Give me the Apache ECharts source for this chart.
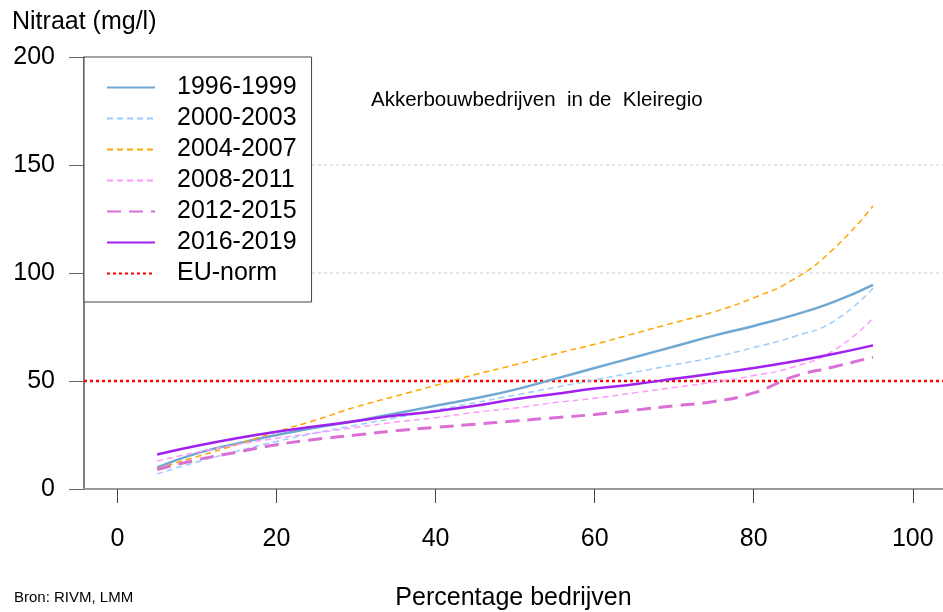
<!DOCTYPE html>
<html>
<head>
<meta charset="utf-8">
<script src="https://cdn.jsdelivr.net/npm/echarts@6/dist/echarts.min.js"></script>
<style>
  html, body { margin: 0; padding: 0; background: #fff; }
  #main { width: 943px; height: 612px; }
</style>
</head>
<body>
<div id="main"></div>
<script>
// percentage of farms (x) and nitrate concentration per period (y)
var pct = [5, 10, 15, 20, 25, 30, 35, 40, 45, 50, 55, 60, 65, 70, 75, 80, 85, 90, 95];
var p1996 = [10, 16.5, 21, 25, 28.5, 31.5, 35, 38.5, 42, 46, 51, 56, 61, 66, 71, 75.5, 80.5, 86.5, 94.5];
var p2000 = [7, 12.5, 17.5, 22, 26, 29.5, 33, 36.5, 40, 43.5, 47, 50.5, 54, 57.5, 61, 65.5, 70.5, 77.5, 93];
var p2004 = [9.5, 15, 20.5, 26.5, 32, 38, 43, 48, 53, 57.5, 62.5, 67, 72, 77, 82, 88.5, 97, 111, 131];
var p2008 = [13, 17, 20.5, 23.5, 26, 28.5, 31, 33, 35.5, 37.5, 40, 42, 44.5, 47, 49.5, 52.5, 56.5, 64, 79];
var p2012 = [9, 13.5, 17, 20.5, 23, 25, 27, 28.5, 30, 31.5, 33, 34.5, 36.5, 38.5, 40.5, 44.5, 52, 56.5, 61];
var p2016 = [16, 20, 23.5, 26.5, 29, 31.5, 34, 36, 38.5, 41.5, 44, 46.5, 48.5, 51, 53.5, 56, 59, 62.5, 66.5];
var euNorm = 50;
var gridValues = [100, 150];
var xTicks = [0, 20, 40, 60, 80, 100];
var xMin = -4.2, xMax = 103.8;

var FONT = 'Liberation Sans';

function pairs(ys) {
    return pct.map(function (x, i) { return [x, ys[i]]; });
}

function curve(name, ys, color, width, dash) {
    return {
        name: name,
        type: 'line',
        data: pairs(ys),
        smooth: 0.5,
        symbol: 'none',
        showSymbol: false,
        lineStyle: { color: color, width: width, type: dash },
        itemStyle: { color: color },
        z: 3
    };
}

var myChart = echarts.init(document.getElementById('main'));

var option = {
    backgroundColor: '#fff',
    animation: false,
    textStyle: { fontFamily: FONT },
    title: {
        text: 'Nitraat (mg/l)',
        left: 7,
        top: 5,
        textStyle: { fontSize: 25, fontWeight: 'normal', color: '#000', fontFamily: FONT }
    },
    legend: {
        orient: 'vertical',
        left: 84,
        top: 57,
        padding: [18, 15, 16, 22],
        itemWidth: 48,
        itemHeight: 14,
        itemGap: 6,
        backgroundColor: '#fff',
        borderColor: '#444',
        borderWidth: 1,
        z: 10,
        itemStyle: { opacity: 0 },
        textStyle: { fontSize: 25, color: '#000', lineHeight: 25, padding: [0, 0, 0, 17], fontFamily: FONT },
        data: ['1996-1999', '2000-2003', '2004-2007', '2008-2011', '2012-2015', '2016-2019', 'EU-norm']
    },
    grid: { left: 84, top: 57, right: 0, bottom: 123, outerBoundsMode: 'none' },
    xAxis: {
        type: 'value',
        min: xMin,
        max: xMax,
        name: 'Percentage bedrijven',
        nameLocation: 'middle',
        nameGap: 97,
        nameTextStyle: { fontSize: 25, color: '#000', fontFamily: FONT },
        axisLine: { show: true, onZero: false, lineStyle: { color: '#999', width: 2 } },
        axisTick: { show: true, length: 14, customValues: xTicks, lineStyle: { color: '#444', width: 1 } },
        axisLabel: { customValues: xTicks, fontSize: 25, color: '#000', margin: 38, fontFamily: FONT },
        splitLine: { show: false }
    },
    yAxis: {
        type: 'value',
        min: 0,
        max: 200,
        interval: 50,
        axisLine: { show: true, onZero: false, lineStyle: { color: '#555', width: 1.5 } },
        axisTick: { show: true, inside: false, length: 15, lineStyle: { color: '#666', width: 1 } },
        axisLabel: { fontSize: 25, color: '#000', margin: 29, padding: [4, 0, 0, 0], fontFamily: FONT },
        splitLine: { show: false }
    },
    graphic: [
        {
            type: 'text',
            left: 371,
            top: 90,
            style: { text: 'Akkerbouwbedrijven  in de  Kleiregio', fontSize: 20.5, fill: '#000', fontFamily: FONT }
        },
        {
            type: 'text',
            left: 14,
            top: 590,
            style: { text: 'Bron: RIVM, LMM', fontSize: 15, fill: '#000', fontFamily: FONT }
        }
    ],
    series: [
        curve('1996-1999', p1996, '#6FA8D2', 2.5, 'solid'),
        curve('2000-2003', p2000, '#99CCFF', 1.5, [6, 4]),
        curve('2004-2007', p2004, '#FFA500', 1.5, [6, 4]),
        curve('2008-2011', p2008, '#FF99FF', 1.5, [6, 4]),
        curve('2012-2015', p2012, '#DA70D6', 3, [14, 8]),
        curve('2016-2019', p2016, '#A020F0', 2.5, 'solid'),
        {
            name: 'EU-norm',
            type: 'line',
            data: [[xMin, euNorm], [xMax, euNorm]],
            symbol: 'none',
            showSymbol: false,
            lineStyle: { color: '#FF0000', width: 2.5, type: [3, 3] },
            itemStyle: { color: '#FF0000' },
            z: 2,
            markLine: {
                silent: true,
                symbol: 'none',
                label: { show: false },
                lineStyle: { color: '#ddd', width: 1.5, type: [3, 3] },
                data: gridValues.map(function (v) { return { yAxis: v }; })
            }
        }
    ]
};

myChart.setOption(option);
</script>
</body>
</html>
